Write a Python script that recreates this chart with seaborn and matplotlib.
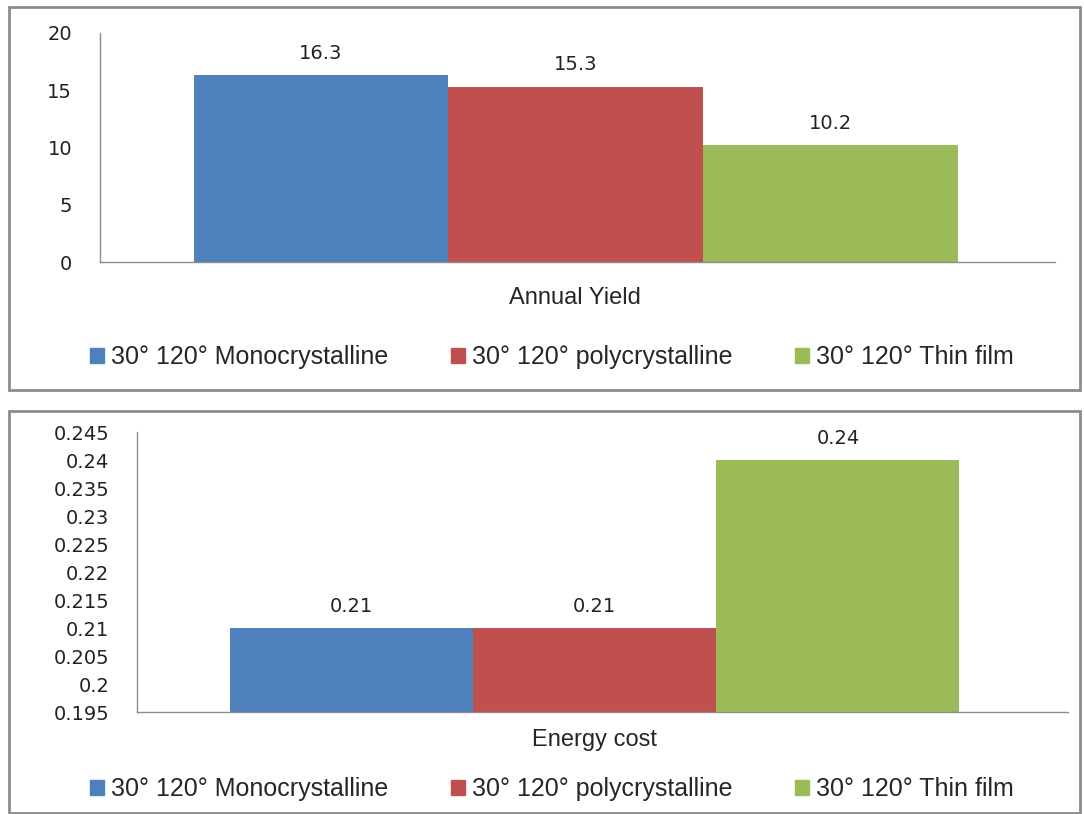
import matplotlib
matplotlib.use("Agg")
import matplotlib.pyplot as plt
import numpy as np
import pandas as pd
import seaborn as sns
from matplotlib.patches import Rectangle

# data
series = ["30° 120° Monocrystalline", "30° 120° polycrystalline", "30° 120° Thin film"]
colors = ["#4F81BD", "#C0504D", "#9BBB59"]
yield_values = [16.3, 15.3, 10.2]
cost_values = [0.21, 0.21, 0.24]
yield_ticks = [0, 5, 10, 15, 20]
cost_ticks = [0.195, 0.2, 0.205, 0.21, 0.215, 0.22, 0.225, 0.23, 0.235, 0.24, 0.245]
cost_tick_labels = ["0.195", "0.2", "0.205", "0.21", "0.215", "0.22", "0.225",
                    "0.23", "0.235", "0.24", "0.245"]

sns.set_style("white")
plt.rcParams["font.family"] = ["DejaVu Sans"]

W, H = 1084, 814
fig = plt.figure(figsize=(W / 100, H / 100), dpi=100)
palette = dict(zip(series, colors))
label_font = ["Liberation Sans", "DejaVu Sans"]


def px_axes(left, top, right, bottom):
    return fig.add_axes([left / W, 1 - bottom / H, (right - left) / W, (bottom - top) / H])


def frame(left, top, right, bottom):
    fig.patches.append(Rectangle((left / W, 1 - bottom / H), (right - left) / W, (bottom - top) / H,
                                 transform=fig.transFigure, fill=False,
                                 edgecolor="#8c8c8c", linewidth=2.0))


def draw_panel(ax, label, values, ylim, xlim, ticks, ticklabels, fmt):
    df = pd.DataFrame({"metric": label, "series": series, "value": values})
    sns.barplot(data=df, x="metric", y="value", hue="series", palette=palette,
                width=0.8, saturation=1, legend=False, linewidth=0, ax=ax)
    for cont in ax.containers:
        ax.bar_label(cont, fmt=fmt, padding=9, fontsize=14, color="#222222")
    ax.set_ylim(*ylim)
    ax.set_xlim(*xlim)
    ax.set_yticks(ticks)
    ax.set_yticklabels(ticklabels, fontsize=14, color="#222222")
    ax.set_xticks([])
    ax.set_ylabel("")
    ax.set_xlabel("")
    for s in ["top", "right"]:
        ax.spines[s].set_visible(False)
    for s in ["left", "bottom"]:
        ax.spines[s].set_color("#8c8c8c")
        ax.spines[s].set_linewidth(1.0)
    ax.tick_params(axis="y", length=0, pad=20)


def legend_row(y, x):
    handles = [Rectangle((0, 0), 1, 1, color=c) for c in colors]
    fig.legend(handles, series, loc="center", bbox_to_anchor=(x / W, 1 - y / H),
               ncol=3, frameon=False, handlelength=0.55, handleheight=0.55,
               handletextpad=0.3, columnspacing=2.5,
               prop={"family": label_font, "size": 18})


# top panel
frame(9, 7, 1080, 390)
ax1 = px_axes(100, 33, 1055, 262)
draw_panel(ax1, "Annual Yield", yield_values, (0, 20), (-0.498, 0.502), yield_ticks,
           [str(t) for t in yield_ticks], "%.1f")
fig.text(575 / W, 1 - 298 / H, "Annual Yield", ha="center", va="center",
         fontsize=17, family=label_font)
legend_row(357, 552)

# bottom panel
frame(9, 411, 1080, 813)
ax2 = px_axes(137, 432, 1068, 712)
draw_panel(ax2, "Energy cost", cost_values, (0.195, 0.245), (-0.502, 0.519), cost_ticks,
           cost_tick_labels, "%.2f")
fig.text(595 / W, 1 - 740 / H, "Energy cost", ha="center", va="center",
         fontsize=17, family=label_font)
legend_row(789, 552)

fig.savefig("out.png", dpi=100)
